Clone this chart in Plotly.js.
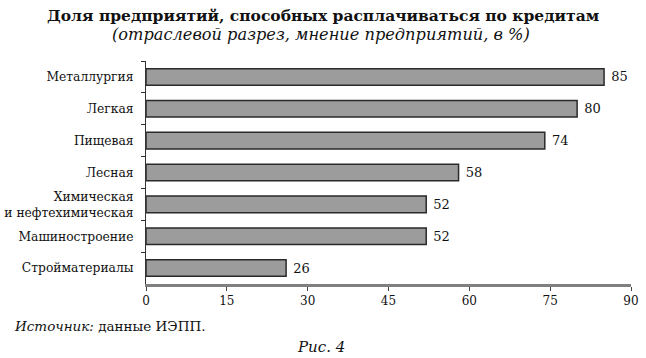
<!DOCTYPE html>
<html><head><meta charset="utf-8">
<script src="https://cdn.plot.ly/plotly-3.0.1.min.js"></script>
<style>html,body{margin:0;padding:0;background:#fff}#chart{width:646px;height:358px}</style>
</head><body><div id="chart"></div>
<script>
const categories = ["Металлургия","Легкая","Пищевая","Лесная","Химическая<br>и нефтехимическая","Машиностроение","Стройматериалы"];
const values = [85, 80, 74, 58, 52, 52, 26];
const xTicks = [0, 15, 30, 45, 60, 75, 90];
const titleText = "<b>Доля предприятий, способных расплачиваться по кредитам</b>";
const subtitleText = "<i>(отраслевой разрез, мнение предприятий, в %)</i>";
const sourceText = "<i>Источник:</i> данные ИЭПП.";
const figText = "<i>Рис. 4</i>";

const serif = "'DejaVu Serif', serif";
const trace = {
  type: "bar", orientation: "h",
  y: categories, x: values,
  width: 0.52,
  marker: {color: "#9c9c9c", line: {color: "#2a2a2a", width: 1.5}},
  text: values.map(String), texttemplate: "\u00a0%{text}",
  textposition: "outside", cliponaxis: false,
  textfont: {family: serif, size: 13, color: "#111"},
  hoverinfo: "skip"
};
const layout = {
  width: 646, height: 358,
  margin: {l: 146, r: 15, t: 61, b: 74},
  paper_bgcolor: "#fff", plot_bgcolor: "#fff",
  showlegend: false,
  font: {family: serif, size: 12, color: "#111"},
  xaxis: {
    range: [0, 90], tickvals: xTicks, ticktext: xTicks.map(String),
    showgrid: false, zeroline: false,
    showline: true, linecolor: "#808080", linewidth: 3,
    ticks: "outside", ticklen: 4, tickcolor: "#444", tickwidth: 1,
    tickfont: {family: serif, size: 12, color: "#111"}, fixedrange: true
  },
  yaxis: {
    type: "category", autorange: "reversed",
    showgrid: false, zeroline: false,
    showline: true, linecolor: "#333", linewidth: 1,
    ticks: "outside", ticklen: 4, tickcolor: "#333", tickson: "boundaries",
    ticklabelstandoff: 9,
    tickfont: {family: serif, size: 12.3, color: "#111"}, fixedrange: true
  },
  annotations: [
    {text: titleText, xref: "paper", yref: "paper", x: 0.5, y: 0, xanchor: "center", yanchor: "middle",
     showarrow: false, font: {family: serif, size: 15.5, color: "#111"}},
    {text: subtitleText, xref: "paper", yref: "paper", x: 0.5, y: 0, xanchor: "center", yanchor: "middle",
     showarrow: false, font: {family: serif, size: 16.2, color: "#111"}},
    {text: sourceText, xref: "paper", yref: "paper", x: 0, y: 0, xanchor: "left", yanchor: "middle",
     showarrow: false, font: {family: serif, size: 13.5, color: "#111"}},
    {text: figText, xref: "paper", yref: "paper", x: 0.5, y: 0, xanchor: "center", yanchor: "middle",
     showarrow: false, font: {family: serif, size: 15, color: "#111"}}
  ]
};
const plotH = 358 - 61 - 74, plotW = 646 - 146 - 15;
function py(pixY) { return (358 - 74 - pixY) / plotH; }
function px(pixX) { return (pixX - 146) / plotW; }
layout.annotations[0].x = px(323); layout.annotations[0].y = py(15);
layout.annotations[1].x = px(321); layout.annotations[1].y = py(34);
layout.annotations[2].x = px(12);  layout.annotations[2].y = py(326);
layout.annotations[3].x = px(321); layout.annotations[3].y = py(347);
Plotly.newPlot("chart", [trace], layout, {displayModeBar: false, staticPlot: true});
</script></body></html>
